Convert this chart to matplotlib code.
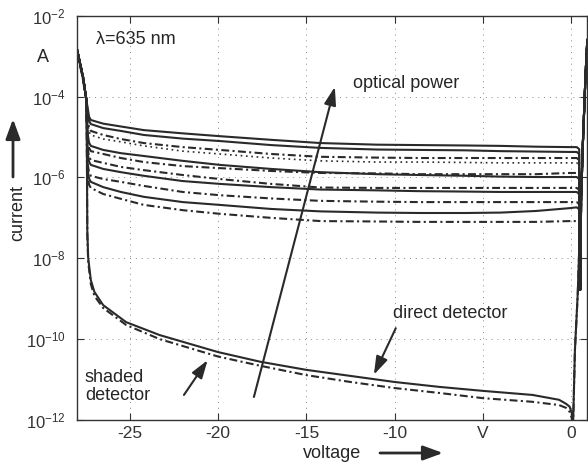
import numpy as np
import matplotlib
matplotlib.use('Agg')
import matplotlib.pyplot as plt
from matplotlib.ticker import NullLocator

plt.rcParams['font.family'] = ['Liberation Sans', 'DejaVu Sans']
plt.rcParams['mathtext.fontset'] = 'custom'
plt.rcParams['mathtext.rm'] = 'Liberation Sans'
plt.rcParams['mathtext.it'] = 'Liberation Sans:italic'
plt.rcParams['mathtext.bf'] = 'Liberation Sans:bold'

# ---------------- data (log10 of current in A) ----------------
v_dark = [-28.0, -27.64, -27.45, -27.42, -27.40, -27.35, -27.2, -27.0, -26.5, -25.2,
          -23.3, -20.0, -17.6, -15.0, -12.5, -10.0, -7.5, -5.0, -2.2, -0.7,
          -0.3, -0.1, 0.02, 0.09, 0.2, 0.36, 0.5, 0.65, 0.8, 0.9]
dark_direct_log = [-2.80, -3.52, -4.09, -5.57, -7.30, -7.99, -8.54, -8.83, -9.16, -9.58,
                   -9.90, -10.32, -10.56, -10.76, -10.91, -11.06, -11.18, -11.28, -11.38, -11.50,
                   -11.60, -11.67, -11.83, -12.20, -10.27, -8.86, -7.00, -5.15, -3.47, -2.60]
dark_shaded_log = [-2.85, -3.59, -4.16, -5.69, -7.42, -8.09, -8.64, -8.93, -9.23, -9.65,
                   -10.00, -10.43, -10.66, -10.89, -11.06, -11.21, -11.33, -11.46, -11.55, -11.63,
                   -11.70, -11.80, -11.95, -12.25, -10.27, -8.88, -7.02, -5.17, -3.49, -2.62]

v_light = [-28.0, -27.64, -27.45, -27.38, -27.3, -27.2, -26.5, -25.5, -24.2, -22.0,
           -19.9, -17.0, -14.2, -11.0, -8.6, -6.0, -4.0, -2.0, -0.1,
           0.3, 0.44, 0.5, 0.55, 0.65, 0.8, 0.9]

light_1 = [-2.80, -3.52, -4.09, -4.28, -4.50, -4.58, -4.67, -4.74, -4.83, -4.91,
           -4.98, -5.07, -5.15, -5.19, -5.20, -5.21, -5.22, -5.24, -5.25,
           -5.25, -5.30, -8.78, -6.56, -5.15, -3.47, -2.60]
light_2 = [-2.80, -3.52, -4.09, -4.38, -4.60, -4.68, -4.78, -4.85, -4.95, -5.04,
           -5.10, -5.20, -5.27, -5.31, -5.32, -5.33, -5.35, -5.36, -5.37,
           -5.37, -5.42, -8.78, -6.56, -5.15, -3.47, -2.60]
light_3 = [-2.80, -3.52, -4.09, -4.55, -4.77, -4.85, -4.95, -5.05, -5.15, -5.25,
           -5.32, -5.42, -5.49, -5.51, -5.52, -5.52, -5.52, -5.52, -5.52,
           -5.52, -5.57, -8.78, -6.56, -5.15, -3.47, -2.60]
light_4 = [-2.80, -3.52, -4.09, -4.65, -4.87, -4.95, -5.05, -5.12, -5.22, -5.35,
           -5.42, -5.52, -5.59, -5.62, -5.62, -5.63, -5.64, -5.64, -5.64,
           -5.64, -5.69, -8.78, -6.56, -5.15, -3.47, -2.60]
light_5 = [-2.80, -3.52, -4.09, -4.92, -5.14, -5.22, -5.32, -5.40, -5.47, -5.59,
           -5.69, -5.79, -5.87, -5.92, -5.94, -5.96, -5.98, -5.99, -5.99,
           -5.99, -6.04, -8.78, -6.56, -5.15, -3.47, -2.60]
light_6 = [-2.80, -3.52, -4.09, -5.05, -5.27, -5.35, -5.42, -5.52, -5.62, -5.72,
           -5.77, -5.84, -5.89, -5.90, -5.92, -5.92, -5.92, -5.92, -5.89,
           -5.89, -5.94, -8.78, -6.56, -5.15, -3.47, -2.60]
light_7 = [-2.80, -3.52, -4.09, -5.27, -5.49, -5.57, -5.64, -5.74, -5.82, -5.94,
           -6.04, -6.16, -6.25, -6.26, -6.26, -6.26, -6.26, -6.26, -6.26,
           -6.26, -6.31, -8.78, -6.56, -5.15, -3.47, -2.60]
light_8 = [-2.80, -3.52, -4.09, -5.39, -5.61, -5.69, -5.79, -5.87, -5.96, -6.09,
           -6.16, -6.24, -6.30, -6.32, -6.34, -6.35, -6.36, -6.36, -6.36,
           -6.36, -6.41, -8.78, -6.56, -5.15, -3.47, -2.60]
light_9 = [-2.80, -3.52, -4.09, -5.66, -5.88, -5.96, -6.04, -6.11, -6.21, -6.36,
           -6.44, -6.52, -6.58, -6.60, -6.61, -6.61, -6.61, -6.61, -6.61,
           -6.61, -6.66, -8.78, -6.56, -5.15, -3.47, -2.60]
light_10 = [-2.80, -3.52, -4.09, -5.81, -6.03, -6.11, -6.24, -6.36, -6.48, -6.61,
            -6.68, -6.78, -6.84, -6.87, -6.88, -6.88, -6.87, -6.83, -6.76,
            -6.74, -6.79, -8.78, -6.56, -5.15, -3.47, -2.60]
light_11 = [-2.80, -3.52, -4.09, -5.96, -6.18, -6.26, -6.41, -6.53, -6.68, -6.81,
            -6.90, -7.00, -7.08, -7.09, -7.10, -7.10, -7.10, -7.10, -7.08,
            -7.08, -7.13, -8.78, -6.56, -5.15, -3.47, -2.60]

light_curves = [light_1, light_2, light_3, light_4, light_5, light_6,
                light_7, light_8, light_9, light_10, light_11]
light_styles = ['solid', 'solid', 'dashdot', 'dotted', 'solid', 'dashdot',
                'dashdot', 'solid', 'dashdot', 'solid', 'dashdot']

x_ticks = [-25, -20, -15, -10, -5, 0]
x_tick_labels = ['-25', '-20', '-15', '-10', 'V', '0']
y_exponents = [-12, -10, -8, -6, -4, -2]

# ---------------- drawing ----------------
W, H = 588, 466
fig = plt.figure(figsize=(W / 100, H / 100), dpi=100)
ax = fig.add_axes([76.7 / W, 46 / H, (587.3 - 76.7) / W, (420 - 15.7) / H])

lc = '#2a2a2a'
dash_dot = (0, (3.8, 1.6, 1.0, 1.6))
dots = (0, (1.0, 2.2))
style_map = {'solid': '-', 'dashdot': dash_dot, 'dotted': dots}

ax.plot(v_dark, 10.0 ** np.array(dark_direct_log), color=lc, lw=1.5, ls='-')
ax.plot(v_dark, 10.0 ** np.array(dark_shaded_log), color=lc, lw=1.5, ls=dash_dot)
for vals, st in zip(light_curves, light_styles):
    ax.plot(v_light, 10.0 ** np.array(vals), color=lc,
            lw=1.2 if st == 'dotted' else 1.5, ls=style_map[st])

ax.set_yscale('log')
ax.set_xlim(-28.0, 0.9)
ax.set_ylim(1e-12, 1e-2)
ax.set_xticks(x_ticks)
ax.set_xticklabels(x_tick_labels)
ax.set_yticks([10.0 ** e for e in y_exponents])
ax.set_yticklabels([r'$\mathregular{10^{%d}}$' % e for e in y_exponents])
ax.yaxis.set_minor_locator(NullLocator())
ax.tick_params(axis='both', direction='in', length=5, width=0.8, top=True, right=True,
               colors='#333333', labelcolor='#333333')
ax.tick_params(axis='x', labelsize=12.5, pad=4.5)
ax.tick_params(axis='y', labelsize=12, pad=8)
ax.grid(True, which='major', linestyle=(0, (1, 5)), color='#8a8a8a', lw=0.7)
for s in ax.spines.values():
    s.set_color('#333333')
    s.set_linewidth(1.0)

tc = '#262626'
fs = 13
# annotations (data coordinates)
ax.text(-26.9, 10 ** -2.60, '\u03bb=635 nm', fontsize=fs, color=tc, ha='left', va='center')
ax.text(-12.38, 10 ** -3.67, 'optical power', fontsize=fs, color=tc, ha='left', va='center')
ax.text(-10.11, 10 ** -9.36, 'direct detector', fontsize=fs, color=tc, ha='left', va='center')
ax.text(-27.54, 10 ** -11.18, 'shaded\ndetector', fontsize=fs, color=tc, ha='left',
        va='center', linespacing=1.1)

arrow_kw = dict(arrowstyle='-|>,head_length=0.55,head_width=0.18', lw=1.5, color=lc,
                shrinkA=0, shrinkB=0, mutation_scale=20)
ax.annotate('', xy=(-13.39, 10 ** -3.76), xytext=(-17.97, 10 ** -11.43), arrowprops=arrow_kw)
ax.annotate('', xy=(-11.18, 10 ** -10.88), xytext=(-9.94, 10 ** -9.73), arrowprops=arrow_kw)
ax.annotate('', xy=(-20.59, 10 ** -10.52), xytext=(-21.93, 10 ** -11.38), arrowprops=arrow_kw)

# axis labels with arrows (figure coordinates)
fig.text(43 / W, 1 - 57 / H, 'A', fontsize=fs, color=tc, ha='center', va='center')
fig.text(18 / W, 1 - 213 / H, 'current', fontsize=fs, color=tc, rotation=90,
         ha='center', va='center')
fig.text(332 / W, 1 - 453 / H, 'voltage', fontsize=fs, color=tc, ha='center', va='center')
big_arrow = dict(arrowstyle='-|>,head_length=0.6,head_width=0.22', lw=2.0, color=lc,
                 shrinkA=0, shrinkB=0, mutation_scale=20)
fig.add_artist(matplotlib.patches.FancyArrowPatch((13 / W, 1 - 177 / H), (13 / W, 1 - 119 / H),
                                                  transform=fig.transFigure, **big_arrow))
fig.add_artist(matplotlib.patches.FancyArrowPatch((380 / W, 1 - 453 / H), (443 / W, 1 - 453 / H),
                                                  transform=fig.transFigure, **big_arrow))

fig.savefig('out.png', dpi=100)
